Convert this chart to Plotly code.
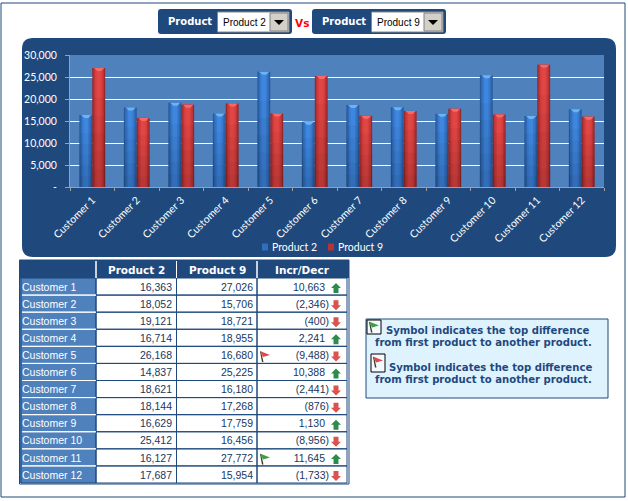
import plotly.graph_objects as go

customers = ["Customer %d" % i for i in range(1, 13)]
product_a = [16363, 18052, 19121, 16714, 26168, 14837, 18621, 18144, 16629, 25412, 16127, 17687]
product_b = [27026, 15706, 18721, 18955, 16680, 25225, 16180, 17268, 17759, 16456, 27772, 15954]
name_a = "Product 2"
name_b = "Product 9"
y_ticks = [0, 5000, 10000, 15000, 20000, 25000, 30000]
y_labels = ["-", "5,000", "10,000", "15,000", "20,000", "25,000", "30,000"]
note_text = ["Symbol indicates the top difference", "from first product to another product."]

diff = [b - a for a, b in zip(product_a, product_b)]
W, H = 628, 501
NAVY = "#1f497d"
MID = "#4f81bd"
TXT = "#17375e"
# pixel shapes: y goes up
FLAG_CLOTH = "M -5 5.5 L 5 1.5 L -2 -0.5 Z"
FLAG_POLE = "M -5 5 L -4 5 L -1.5 -5.5 L -3 -5.5 Z"
UP = "M 0 5 L 5 0 L 2.5 0 L 2.5 -5 L -2.5 -5 L -2.5 0 L -5 0 Z"
DOWN = "M 0 -5 L 5 0 L 2.5 0 L 2.5 5 L -2.5 5 L -2.5 0 L -5 0 Z"


def px(x):
    return x / W


def py(y):
    return 1 - y / H


def rect(x0, y0, x1, y1, fill=None, line=None, lw=1, layer="below"):
    return dict(type="rect", xref="paper", yref="paper", x0=px(x0), x1=px(x1), y0=py(y0), y1=py(y1),
                fillcolor=fill or "rgba(0,0,0,0)", line=dict(color=line or "rgba(0,0,0,0)", width=lw if line else 0),
                layer=layer)


def rounded(x0, y0, x1, y1, r, fill):
    a, b, c, d = px(x0), px(x1), py(y0), py(y1)
    rx, ry = r / W, r / H
    path = (f"M {a + rx} {c} L {b - rx} {c} Q {b} {c} {b} {c - ry} L {b} {d + ry} Q {b} {d} {b - rx} {d} "
            f"L {a + rx} {d} Q {a} {d} {a} {d + ry} L {a} {c - ry} Q {a} {c} {a + rx} {c} Z")
    return dict(type="path", xref="paper", yref="paper", path=path, fillcolor=fill, line=dict(width=0), layer="below")


def label(x, y, text, size=10, color="white", family="Liberation Sans", anchor="center", bold=False):
    if bold:
        text = "<b>%s</b>" % text
    return dict(xref="paper", yref="paper", x=px(x), y=py(y), text=text, showarrow=False, xanchor=anchor,
                yanchor="middle", font=dict(size=size, color=color, family=family))


def flag(xr, yr, xa, ya, col):
    out = []
    for p, c in [(FLAG_POLE, "#3a3a2a"), (FLAG_CLOTH, col)]:
        out.append(dict(type="path", xref=xr, yref=yr, xsizemode="pixel", ysizemode="pixel", xanchor=xa, yanchor=ya,
                        fillcolor=c, line=dict(width=0), path=p, layer="above"))
    return out


fig = go.Figure()

# cylinder look: same value drawn a few times, each narrower and lighter
band = 0.29
blues = ["#2a5a98", "#2f6bb8", "#377ad0", "#3f86de"]
reds = ["#962a2a", "#bc3434", "#d43e3e", "#e04644"]
scales = [1.0, 0.82, 0.6, 0.34]
for vals, colors, center, nm in [(product_a, blues, -band / 2, name_a), (product_b, reds, band / 2, name_b)]:
    for s, c in zip(scales, colors):
        w = band * s
        fig.add_trace(go.Bar(x=customers, y=vals, width=w, offset=center - w / 2, name=nm, marker_color=c,
                             marker_line_width=0, showlegend=False))
    # darker toward the foot of each bar
    for frac in [0.75, 0.6, 0.45, 0.3, 0.15]:
        fig.add_trace(go.Bar(x=customers, y=[v * frac for v in vals], width=band, offset=center - band / 2,
                             marker_color="rgba(0,0,0,0.035)", marker_line_width=0, showlegend=False))

# table text goes on its own hidden axes
cols = [
    (customers, 22, "middle right", "white"),
    (["{:,}".format(v) for v in product_a], 172, "middle left", TXT),
    (["{:,}".format(v) for v in product_b], 253, "middle left", TXT),
]
for text, xpos, pos, color in cols:
    fig.add_trace(go.Scatter(x=[xpos] * 12, y=customers, text=text, mode="text", textposition=pos, xaxis="x2",
                             yaxis="y2", textfont=dict(family="Liberation Sans", size=10.5, color=color),
                             showlegend=False))
pos_rows = [c for c, d in zip(customers, diff) if d >= 0]
neg_rows = [c for c, d in zip(customers, diff) if d < 0]
fig.add_trace(go.Scatter(x=[325] * len(pos_rows), y=pos_rows, text=["{:,}".format(d) for d in diff if d >= 0],
                         mode="text", textposition="middle left", xaxis="x2", yaxis="y2",
                         textfont=dict(family="Liberation Sans", size=10.5, color=TXT), showlegend=False))
fig.add_trace(go.Scatter(x=[329] * len(neg_rows), y=neg_rows, text=["({:,})".format(-d) for d in diff if d < 0],
                         mode="text", textposition="middle left", xaxis="x2", yaxis="y2",
                         textfont=dict(family="Liberation Sans", size=10.5, color=TXT), showlegend=False))

shapes = [
    rect(1, 3, 625, 497, line=NAVY, lw=1),
    rounded(158, 9, 292, 34, 3, NAVY),
    rounded(312, 9, 446, 34, 3, NAVY),
    rounded(22, 38, 616, 257, 11, NAVY),
    rect(70, 55, 604, 187, fill=MID),
    # note box
    rect(366, 319, 608, 398, fill="#dff3ff", line=NAVY, lw=1),
    rect(367, 320, 381, 334, fill="#f4fbff", line="black", lw=1),
    rect(371, 354, 385, 372, fill="#f4fbff", line="black", lw=1),
    # table
    rect(19, 260, 349, 278, fill=NAVY),
    rect(19, 278, 96, 483, fill=MID),
    rect(96, 278, 347, 483, fill="white"),
    rect(19.5, 260, 349, 484, line=NAVY, lw=1),
    rect(21, 278, 347, 483, line=NAVY, lw=1),
]
for x in [96, 176.5, 257]:
    shapes.append(rect(x, 278, x, 483, line=NAVY, lw=1))
for x in [96, 176.5, 257]:
    shapes.append(rect(x, 261, x, 278, line="white", lw=1))
for i in range(1, 12):
    yy = 278 + i * 205 / 12
    shapes.append(rect(22, yy, 96, yy, line="white", lw=1))
    shapes.append(rect(96, yy, 347, yy, line=NAVY, lw=1))

# dropdowns
annots = []
for x0, nm in [(158, name_a), (312, name_b)]:
    shapes.append(rect(x0 + 59.5, 12, x0 + 131, 32, fill="white", line="#888888", lw=1))
    shapes.append(rect(x0 + 112, 13, x0 + 130, 31, fill="#d4d0c8", line="#808080", lw=1))
    tri_x = px(x0 + 121)
    shapes.append(dict(type="path", xref="paper", yref="paper", fillcolor="black", line=dict(width=0),
                       path=f"M {px(x0 + 116)} {py(20)} L {px(x0 + 126)} {py(20)} L {tri_x} {py(25)} Z"))
    annots.append(label(x0 + 31.5, 21.5, "Product", size=10, family="DejaVu Sans", bold=True))
    annots.append(label(x0 + 62.5, 22, nm, size=10, color="black", anchor="left"))
annots.append(label(302, 23, "Vs", size=10.5, color="#ff0000", family="DejaVu Sans", bold=True))

# bar caps
for vals, dx, col in [(product_a, -6, "#68b4f4"), (product_b, 7, "#f56a66")]:
    for i, v in enumerate(vals):
        shapes.append(dict(type="path", xref="x", yref="y", xsizemode="pixel", ysizemode="pixel", xanchor=i,
                           yanchor=v, fillcolor=col, line=dict(width=0), layer="above",
                           path=f"M {dx - 5} 0 L {dx + 5} 0 L {dx + 2} -3 L {dx - 2} -3 Z"))

# legend by hand
for x, nm, col in [(262, name_a, "#2f6fbd"), (328, name_b, "#b83232")]:
    shapes.append(rect(x, 243.5, x + 6, 250.5, fill=col))
    annots.append(label(x + 7.5, 247, nm, size=10.5, family="Lato", anchor="left"))

# arrows and flags on the table axes
top = diff.index(max(diff))
low = diff.index(min(diff))
for i, d in enumerate(diff):
    shapes.append(dict(type="path", xref="x2", yref="y2", xsizemode="pixel", ysizemode="pixel", xanchor=336,
                       yanchor=customers[i], fillcolor="#2e8b4e" if d >= 0 else "#d9534f",
                       line=dict(width=0), path=UP if d >= 0 else DOWN, layer="above"))
shapes += flag("x2", "y2", 265, customers[top], "#3f9f3f")
shapes += flag("x2", "y2", 265, customers[low], "#e0484a")
shapes += flag("paper", "paper", px(374), py(327), "#3f9f3f")
shapes += flag("paper", "paper", px(378), py(362), "#e0484a")

# table header and note
for x, t in [(136, name_a), (217, name_b), (302, "Incr/Decr")]:
    annots.append(label(x, 270, t, size=10.5, family="DejaVu Sans", bold=True))
annots.append(label(384, 330, note_text[0], size=10.1, color=NAVY, family="DejaVu Sans", anchor="left", bold=True))
annots.append(label(373, 342, note_text[1], size=10.1, color=NAVY, family="DejaVu Sans", anchor="left", bold=True))
annots.append(label(387, 367, note_text[0], size=10.1, color=NAVY, family="DejaVu Sans", anchor="left", bold=True))
annots.append(label(373, 379, note_text[1], size=10.1, color=NAVY, family="DejaVu Sans", anchor="left", bold=True))

fig.update_layout(
    width=W, height=H, margin=dict(l=0, r=0, t=0, b=0), autosize=False,
    paper_bgcolor="white", plot_bgcolor="rgba(0,0,0,0)",
    barmode="overlay", hovermode=False, showlegend=False,
    shapes=shapes, annotations=annots,
    xaxis=dict(domain=[px(70), px(604)], type="category", range=[-0.5, 11.5], tickson="boundaries", automargin=False,
               ticks="outside", ticklen=3, tickcolor="#a0a0a0", linecolor="#a0a0a0", showline=True, showgrid=False,
               tickangle=-45, ticklabelstandoff=2, tickfont=dict(family="Lato", size=10.5, color="white")),
    yaxis=dict(domain=[py(187), py(55)], range=[0, 30000], tickvals=y_ticks, ticktext=y_labels, automargin=False,
               ticks="outside", ticklen=4, tickcolor="#a0a0a0", linecolor="#a0a0a0", showline=True,
               gridcolor="white", gridwidth=1, zeroline=False, ticklabelstandoff=6,
               tickfont=dict(family="Lato", size=10.5, color="white")),
    xaxis2=dict(domain=[px(19), px(349)], range=[19, 349], visible=False, anchor="y2", automargin=False),
    yaxis2=dict(domain=[py(484.5), py(279.5)], type="category", categoryorder="array", categoryarray=customers,
                range=[11.5, -0.5], visible=False, anchor="x2", automargin=False),
)

fig.write_html("out.html", config=dict(displayModeBar=False), post_script="document.body.style.margin='0';")
